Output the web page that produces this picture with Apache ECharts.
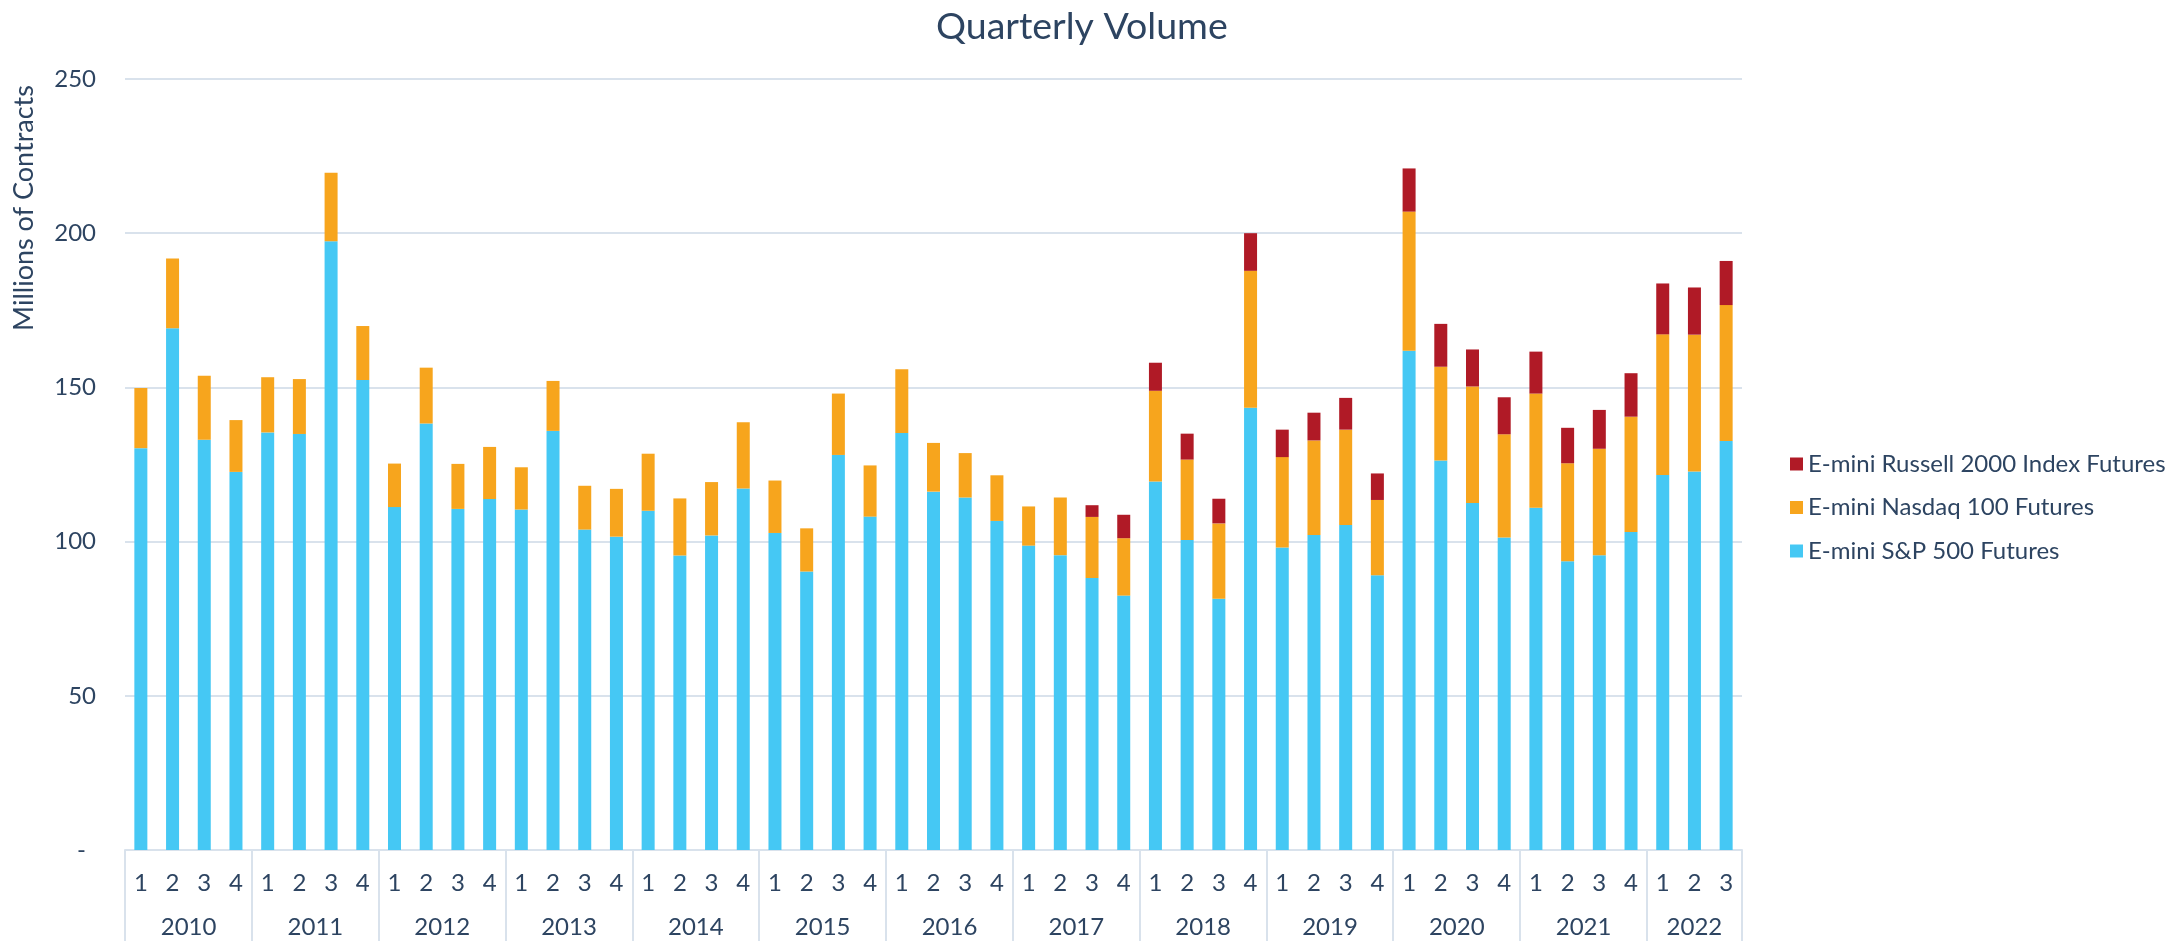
<!DOCTYPE html>
<html>
<head>
<meta charset="utf-8">
<script src="https://cdn.jsdelivr.net/npm/echarts@6/dist/echarts.min.js"></script>
<style>
  html, body { margin: 0; padding: 0; background: #fff; }
  #chart { width: 2183px; height: 941px; }
</style>
</head>
<body>
<div id="chart"></div>
<script>
// quarterly volume, millions of contracts
var years = [
  2010, 2010, 2010, 2010, 2011, 2011, 2011, 2011, 2012, 2012, 2012, 2012,
  2013, 2013, 2013, 2013, 2014, 2014, 2014, 2014, 2015, 2015, 2015, 2015,
  2016, 2016, 2016, 2016, 2017, 2017, 2017, 2017, 2018, 2018, 2018, 2018,
  2019, 2019, 2019, 2019, 2020, 2020, 2020, 2020, 2021, 2021, 2021, 2021,
  2022, 2022, 2022
];
var quarters = [
  1, 2, 3, 4, 1, 2, 3, 4, 1, 2, 3, 4,
  1, 2, 3, 4, 1, 2, 3, 4, 1, 2, 3, 4,
  1, 2, 3, 4, 1, 2, 3, 4, 1, 2, 3, 4,
  1, 2, 3, 4, 1, 2, 3, 4, 1, 2, 3, 4,
  1, 2, 3
];
var sp500 = [
  130.3, 169.2, 133.0, 122.6, 135.4, 134.9, 197.4, 152.4, 111.2, 138.3, 110.6, 113.8,
  110.4, 135.9, 103.9, 101.6, 110.0, 95.5, 102.0, 117.2, 102.8, 90.3, 128.1, 108.1,
  135.2, 116.2, 114.3, 106.7, 98.7, 95.6, 88.2, 82.5, 119.5, 100.5, 81.5, 143.4,
  98.1, 102.1, 105.4, 89.1, 161.9, 126.3, 112.5, 101.3, 111.0, 93.6, 95.6, 103.1,
  121.6, 122.7, 132.6
];
var nasdaq100 = [
  19.5, 22.6, 20.8, 16.8, 17.9, 17.8, 22.2, 17.5, 14.1, 18.1, 14.6, 16.9,
  13.7, 16.2, 14.2, 15.5, 18.5, 18.5, 17.3, 21.5, 17.0, 14.0, 19.9, 16.6,
  20.7, 15.8, 14.4, 14.8, 12.7, 18.7, 19.8, 18.6, 29.4, 26.1, 24.4, 44.4,
  29.3, 30.7, 30.9, 24.4, 45.1, 30.4, 37.8, 33.5, 37.0, 31.8, 34.5, 37.4,
  45.6, 44.4, 44.1
];
var russell2000 = [
  0, 0, 0, 0, 0, 0, 0, 0, 0, 0, 0, 0,
  0, 0, 0, 0, 0, 0, 0, 0, 0, 0, 0, 0,
  0, 0, 0, 0, 0, 0, 3.8, 7.6, 9.1, 8.4, 8.0, 12.2,
  8.9, 9.0, 10.3, 8.6, 14.0, 13.9, 12.0, 12.0, 13.6, 11.5, 12.6, 14.1,
  16.5, 15.3, 14.3
];
var seriesNames = ['E-mini S&P 500 Futures', 'E-mini Nasdaq 100 Futures', 'E-mini Russell 2000 Index Futures'];

var textColor = '#2d4461';
var lineColor = '#d9e2ec';
var font = 'Lato';

var categories = years.map(function (y, i) { return y + ' Q' + quarters[i]; });

var chart = echarts.init(document.getElementById('chart'));
chart.setOption({
  backgroundColor: '#fff',
  animation: false,
  textStyle: { fontFamily: font, color: textColor },
  title: {
    text: 'Quarterly Volume',
    left: 931,
    top: 3,
    textStyle: { fontFamily: font, fontSize: 37.5, fontWeight: 'normal', color: textColor }
  },
  legend: {
    orient: 'vertical',
    left: 1785,
    top: 447,
    itemWidth: 13,
    itemHeight: 13,
    itemGap: 19.5,
    icon: 'rect',
    data: [seriesNames[2], seriesNames[1], seriesNames[0]],
    textStyle: { fontFamily: font, fontSize: 24, lineHeight: 24, color: textColor }
  },
  grid: { left: 125, right: 441, top: 79, bottom: 91, containLabel: false },
  xAxis: [
    {
      type: 'category',
      data: categories,
      axisLine: { show: true, lineStyle: { color: lineColor, width: 2 } },
      axisTick: {
        show: true,
        length: 91,
        interval: function (idx) { return quarters[idx] === 1; },
        lineStyle: { color: lineColor, width: 2 }
      },
      axisLabel: {
        interval: 0,
        margin: 21,
        fontFamily: font,
        fontSize: 24,
        color: textColor,
        formatter: function (v, i) { return String(quarters[i]); }
      }
    },
    {
      type: 'category',
      position: 'bottom',
      data: categories,
      axisLine: { show: false },
      axisTick: { show: false },
      splitLine: { show: false },
      axisLabel: {
        margin: 65,
        fontFamily: font,
        fontSize: 24,
        color: textColor,
        interval: function (idx) { return quarters[idx] === 2; },
        formatter: function (v, i) {
          if (quarters[i] !== 2) return '';
          var full = years[i + 2] === years[i] && quarters[i + 2] === 4;
          return full ? '{shift|' + years[i] + '}' : '{plain|' + years[i] + '}';
        },
        rich: {
          shift: { padding: [0, 0, 0, 32], fontFamily: font, fontSize: 24, color: textColor },
          plain: { fontFamily: font, fontSize: 24, color: textColor }
        }
      }
    }
  ],
  yAxis: {
    type: 'value',
    min: 0,
    max: 250,
    interval: 50,
    name: 'Millions of Contracts',
    nameLocation: 'middle',
    nameRotate: 90,
    nameGap: 87,
    nameTextStyle: { fontFamily: font, fontSize: 27, color: textColor, padding: [0, 0, 0, 513] },
    axisLine: { show: false },
    axisTick: { show: false },
    splitLine: { show: true, lineStyle: { color: lineColor, width: 2 } },
    axisLabel: {
      margin: 29,
      fontFamily: font,
      fontSize: 24,
      color: textColor,
      formatter: function (v) { return v === 0 ? '{dash|-}' : String(v); },
      rich: { dash: { padding: [0, 10, 0, 0], fontFamily: font, fontSize: 24, color: textColor } }
    }
  },
  series: [
    { name: seriesNames[0], type: 'bar', stack: 'vol', barWidth: 13, data: sp500, itemStyle: { color: '#45c8f4' } },
    { name: seriesNames[1], type: 'bar', stack: 'vol', barWidth: 13, data: nasdaq100, itemStyle: { color: '#f7a51d' } },
    { name: seriesNames[2], type: 'bar', stack: 'vol', barWidth: 13, data: russell2000, itemStyle: { color: '#b01a26' } }
  ]
});
</script>
</body>
</html>
